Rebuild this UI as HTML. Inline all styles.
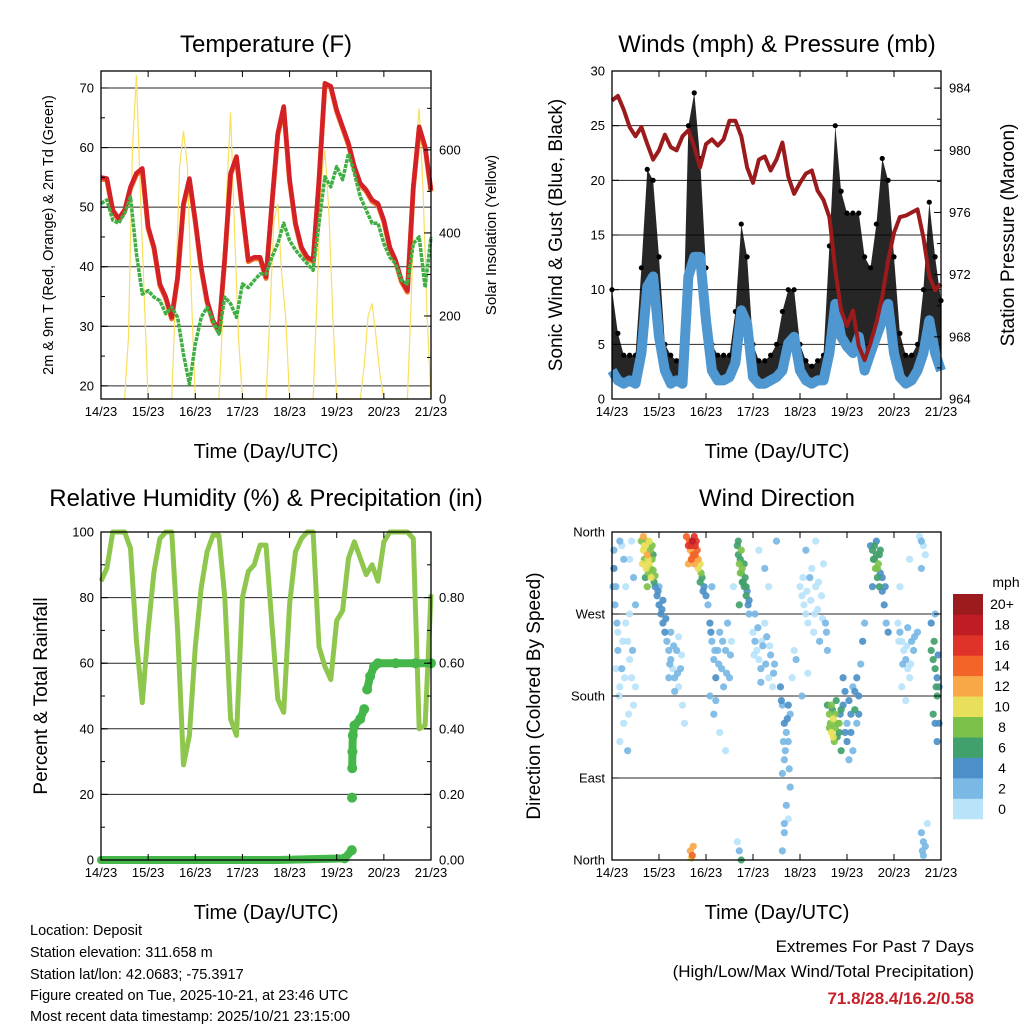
<!DOCTYPE html>
<html><head><meta charset="utf-8"><style>
body{margin:0;background:#fff;}
svg{display:block;font-family:"Liberation Sans",Arial,sans-serif;}
</style></head><body>
<svg id="chart" width="1024" height="1024" viewBox="0 0 1024 1024" xmlns="http://www.w3.org/2000/svg">
<rect width="1024" height="1024" fill="#fff"/>
<g id="layer"></g>
<g font-size="24" text-anchor="middle">
<text x="266" y="52">Temperature (F)</text>
<text x="777" y="52">Winds (mph) &amp; Pressure (mb)</text>
<text x="266" y="506">Relative Humidity (%) &amp; Precipitation (in)</text>
<text x="777" y="506">Wind Direction</text>
</g>
<g font-size="20" text-anchor="middle">
<text x="266" y="458">Time (Day/UTC)</text>
<text x="777" y="458">Time (Day/UTC)</text>
<text x="266" y="919">Time (Day/UTC)</text>
<text x="777" y="919">Time (Day/UTC)</text>
</g>
<g text-anchor="middle">
<text font-size="14.5" transform="translate(53,235) rotate(-90)">2m &amp; 9m T (Red, Orange) &amp; 2m Td (Green)</text>
<text font-size="15" transform="translate(496,235) rotate(-90)">Solar Insolation (Yellow)</text>
<text font-size="19" transform="translate(562,235) rotate(-90)">Sonic Wind &amp; Gust (Blue, Black)</text>
<text font-size="19" transform="translate(1014,235) rotate(-90)">Station Pressure (Maroon)</text>
<text font-size="19" transform="translate(47,696) rotate(-90)">Percent &amp; Total Rainfall</text>
<text font-size="19" transform="translate(540,696) rotate(-90)">Direction (Colored By Speed)</text>
</g>
<g font-size="14.5">
<text x="30" y="935">Location: Deposit</text>
<text x="30" y="957">Station elevation: 311.658 m</text>
<text x="30" y="979">Station lat/lon: 42.0683; -75.3917</text>
<text x="30" y="1000">Figure created on Tue, 2025-10-21, at 23:46 UTC</text>
<text x="30" y="1021">Most recent data timestamp: 2025/10/21 23:15:00</text>
</g>
<g font-size="17" text-anchor="end">
<text x="974" y="952">Extremes For Past 7 Days</text>
<text x="974" y="977">(High/Low/Max Wind/Total Precipitation)</text>
<text x="974" y="1004" fill="#c8202a" font-weight="bold">71.8/28.4/16.2/0.58</text>
</g>
</svg>
<script>
const T3=[];for(let i=0;i<=56;i++)T3.push(i*3);
const tempT=[55,54.8,49.5,48.1,49.5,53.4,55.7,56.5,46.7,43.3,37.1,34.9,31.5,38.3,50.6,54.8,47.8,39.9,34.3,31.0,29.3,41.6,55.7,58.5,49.5,41.1,41.6,41.6,38.3,50.6,62.4,66.9,54.6,47.3,43.3,41.6,41.1,54.6,70.8,70.3,66.3,63.5,60.7,56.8,54.0,52.9,51.2,50.6,47.8,43.3,41.1,37.7,36.0,53.4,63.5,60.2,52.9];
const dewT=[50.6,51.2,47.8,47.3,49.0,51.7,42.2,35.4,36.0,34.9,34.3,32.1,33.2,31.5,25.3,20.3,27.0,31.5,33.2,31.0,28.7,34.9,33.8,31.5,37.1,36.5,37.7,38.8,38.8,41.6,43.9,47.3,44.4,42.8,41.6,40.5,39.4,47.3,55.1,53.4,56.8,54.6,59.0,55.7,51.7,49.5,47.3,47.3,43.9,41.6,40.5,37.7,37.1,43.9,45.0,36.5,45.0];
const solarTime=[12,14,16,18,20,22,24, 36,38,40,42,44,46,48, 60,62,64,66,68,70,72, 84,86,88,90,92,94,96, 108,110,112,114,116,118,120, 132,134,136,138,140,142,144, 156,158,160,162,164,166,168];
const solarVal=[0,150,600,780,500,250,0, 0,250,560,645,560,250,0, 0,200,500,690,400,150,0, 0,200,430,470,300,200,0, 0,250,520,600,450,200,0, 0,80,200,230,150,60,0, 0,250,600,700,500,200,0];
const windSpd=[2.6,1.7,1.4,1.7,1.4,4.2,10.3,11.2,5.7,2.6,1.4,1.7,1.4,11.2,13.0,13.0,7.2,2.6,1.7,1.7,2.0,3.3,8.1,6.9,2.0,1.4,1.4,1.7,2.0,2.6,5.1,5.7,2.6,1.7,1.4,1.7,1.7,4.2,8.7,5.7,4.8,4.2,5.7,2.6,4.2,5.7,7.2,8.7,4.2,2.0,1.4,1.7,2.6,4.2,7.2,4.2,2.6];
const gustHi=[10,6,4,4,4,12,21,20,13,5,4,3.5,4,25,28,22,12,5,4,4,4,8,16,13,5,3.5,3.5,4,5,8,10,10,5,3.5,3,3.5,4,14,25,19,17,17,17,13,12,16,22,20,13,6,4,4,5,10,18,13,9];
const pressure=[983.2,983.5,982.6,981.5,980.9,981.5,980.4,979.4,980.0,981.0,980.2,980.0,980.9,981.3,980.2,978.9,980.4,980.7,980.3,980.7,981.9,981.9,980.9,978.9,977.9,979.4,979.6,978.7,979.4,980.5,978.3,977.2,977.9,978.5,978.7,977.4,976.8,975.7,972.3,969.7,968.7,969.7,967.4,966.5,967.6,968.9,970.6,972.9,974.7,975.7,975.8,976.0,976.2,974.4,971.9,971.0,971.4];
const rh=[85,89,100,100,100,95,67,48,70,88,98,100,100,70,29,38,65,83,94,99,99,80,43,38,80,88,90,96,96,72,49,45,78,94,98,100,100,65,59,55,73,76,92,97,92,87,90,85,97,100,100,100,100,98,40,41,81];
const precipTime=[0,30,60,90,124,127.7,127.8,127.9,128,128.2,129,132,134,135.5,137,139,141,150,160,168];
const precipVal=[0,0,0,0,0.005,0.03,0.19,0.28,0.33,0.38,0.41,0.43,0.46,0.52,0.56,0.59,0.6,0.6,0.6,0.6];
const dirTime=[1,1,2,1.5,3,3,2,4,5,6,7,8,9,10,11,6,8,4,11,12,10,7,5,9,
15,16,16.5,17,17.5,18,18.5,19,19.5,20,20.5,21,21.5,22,16,17,18,19,
22,23,24,25,26,27,24,26,
28,29,30,31,32,33,34,35,30,36,37,32,29,34,
38,39,40,40.5,41,41.5,42,42.5,43,43.5,44,45,45.5,46,47,48,39,42,40,41,41.5,40.5,
49,50,51,52,53,54,55,56,57,58,59,60,61,50,52,55,58,62,51,
64,64.5,65,65.5,66,66.5,67,67.5,68,68.5,69,70,66,65,70,64,65,66,
72,73,74,75,76,77,78,79,80,81,82,83,75,78,80,84,73,76,
86,87,88,89,90,88,87,90,91,92,89,90,88,87,91,93,94,
96,97,98,99,100,101,102,103,104,105,106,107,108,109,110,99,104,100,97,
110,111,111.5,112,112.5,113,113.5,114,114.5,115,116,116.5,117,118,119,120,121,122,123,124,125,126,127,128,129,120,123,125,118,121,
132,133,134,134.5,135,135.5,136,136.5,137,138,139,140,141,133,137,135,
146,147,148,149,150,151,152,153,148,150,151,154,156,147,152,
157,158,159,160,158,158,159,160,159,161,163,164,165,166,164,165,166,163,167,165,166,
0.5,2.5,3.5,5.5,6.5,8.5,10.5,12,4,9,
15.5,16.5,17.5,18.5,19.5,20.5,21,
23.5,25.5,27.5,29.5,31.5,33.5,35.5,
39.5,40.5,41,42.5,43,44,45,46.5,
50.5,52.5,54.5,56.5,58.5,60.5,53,
64.5,65.5,66.5,67.5,68.5,69.5,
72.5,74.5,76.5,78.5,80.5,82.5,
86.5,87.5,88.5,89.5,90.5,88,
97.5,99.5,101.5,103.5,105.5,107.5,109.5,
111,112,113,114,115,116,117,119,122,124,126,
133.5,134,135.5,136.5,138,139.5,
146.5,148.5,150.5,152.5,154.5,
164.5,165.5,166.5,167,158.5];
const dirDeg=[340,320,300,280,250,230,210,190,345,330,300,240,220,200,170,150,120,130,310,280,350,260,210,270,
350,340,330,345,320,335,315,325,340,310,330,318,305,312,355,310,300,350,
300,290,280,270,260,250,300,285,
240,230,220,210,200,230,190,210,250,170,150,185,200,245,
355,345,340,330,350,335,325,345,330,340,320,325,315,310,300,290,325,355,10,5,15,2,
280,260,240,220,200,230,250,210,190,230,260,200,240,180,160,140,120,300,300,
345,335,325,330,315,320,305,300,310,290,295,285,340,280,270,20,10,0,
250,240,230,220,210,235,260,245,200,225,190,215,340,320,300,350,270,195,
190,170,150,140,130,110,95,170,160,200,60,45,30,10,80,230,220,
300,290,280,270,260,310,320,250,300,275,240,290,325,260,230,340,350,205,180,
170,160,150,140,165,155,130,145,175,135,150,160,120,170,185,150,175,140,190,165,200,180,215,240,260,130,120,150,200,110,
345,340,330,320,335,310,325,300,315,295,280,260,250,300,340,350,
260,250,240,230,220,210,200,240,190,175,255,230,250,300,330,
355,350,345,335,320,30,20,15,5,40,230,220,210,200,160,150,180,260,190,270,130,
300,260,180,240,200,160,230,190,350,330,
325,345,350,330,320,345,335,
295,275,265,215,235,205,225,
350,345,330,335,350,330,305,295,
250,230,215,240,205,225,175,
350,315,305,325,300,280,
225,255,240,215,235,205,
175,130,120,155,100,40,
310,295,285,270,305,265,250,
145,170,135,160,150,140,165,140,160,185,160,
330,345,320,335,310,300,
240,215,235,215,245,
240,190,225,150,10];
const dirSpd=[3,4,2,3,1,2,1,1,1,2,1,1,0,1,1,1,2,1,3,2,1,1,2,1,
8,10,9,11,10,12,9,10,8,10,9,8,7,9,12,7,8,11,
5,4,5,4,5,4,3,4,
2,3,2,1,2,3,1,2,2,1,1,3,2,1,
14,16,12,15,18,14,13,16,12,15,11,10,9,7,5,4,12,17,12,15,13,10,
3,4,3,3,4,2,3,3,2,3,2,2,1,3,2,1,1,1,3,
6,7,8,6,7,8,7,6,7,6,5,4,9,6,3,1,2,6,
1,2,1,1,2,3,1,2,1,2,1,3,1,2,1,3,2,3,
4,3,4,3,2,3,2,4,3,1,2,1,2,2,2,1,2,
1,0,1,0,1,2,1,0,1,1,2,1,1,3,2,2,1,1,2,
6,8,9,10,7,11,8,9,6,7,8,5,6,4,4,3,5,4,3,6,4,5,3,4,3,4,2,3,5,2,
5,6,7,8,7,6,8,6,5,4,4,3,4,5,7,5,
1,2,1,1,2,1,1,2,1,1,3,3,2,1,1,
1,2,1,1,3,3,2,3,2,1,6,7,6,5,6,5,6,4,5,3,4,
3,2,1,1,1,1,2,1,2,1,
10,11,9,10,9,8,7,
4,5,4,2,3,2,1,
15,17,13,14,16,12,6,5,
4,3,3,2,3,2,3,
7,8,7,6,7,5,
1,2,1,2,1,2,
4,3,3,4,2,2,
1,1,1,1,0,1,2,
9,8,10,9,8,7,6,5,5,4,4,
7,6,8,7,5,4,
1,2,1,1,2,
6,7,5,5,3];
const dayLabels=["14/23","15/23","16/23","17/23","18/23","19/23","20/23","21/23"];
const tempTicks=[20,30,40,50,60,70];
const solarTicks=[0,200,400,600];
const windTicks=[0,5,10,15,20,25,30];
const presTicks=[964,968,972,976,980,984];
const rhTicks=[0,20,40,60,80,100];
const rainTicks=[0,0.2,0.4,0.6,0.8];
const dirTicks=[0,90,180,270,360];
const dirNames=["North","East","South","West","North"];
const spdColors=["#b8e3f8","#7ab9e5","#4b90c8","#41a16c","#7cc24a","#e8e05a","#f9a848","#f26428","#df3228","#c01c25","#9b1b1e"];
const spdLabels=["0","2","4","6","8","10","12","14","16","18","20+"];

const NS="http://www.w3.org/2000/svg";
const layer=document.getElementById('layer');
function mk(tag,attrs,parent){const e=document.createElementNS(NS,tag);for(const k in attrs)e.setAttribute(k,attrs[k]);(parent||layer).appendChild(e);return e;}
function lin(d0,d1,r0,r1){return v=>r0+(v-d0)/(d1-d0)*(r1-r0);}
function pathOf(xs,ys,fx,fy){return xs.map((t,i)=>(i?'L':'M')+fx(t).toFixed(1)+','+fy(ys[i]).toFixed(1)).join('');}

function panel(name){
  const g=mk('g',{});
  
  
  return g;
}
function frame(g,x0,x1,y0,y1,fx){
  const r=mk('rect',{x:x0,y:y0,width:x1-x0,height:y1-y0,fill:'none',stroke:'#000','stroke-width':1.3},g);
  
  
  dayLabels.forEach((lab,i)=>{
    const x=fx(i*24);
    const t1=mk('line',{x1:x,x2:x,y1:y1,y2:y1-6,stroke:'#000','stroke-width':1},g);
    
    
    const t2=mk('line',{x1:x,x2:x,y1:y0,y2:y0+6,stroke:'#000','stroke-width':1},g);
    
    
    const tx=mk('text',{x:x,y:y1+17,'font-size':13,'text-anchor':'middle'},g);
    tx.textContent=lab;
    
    
  });
}
function grid(g,x0,x1,vals,fy){
  vals.forEach(v=>{const y=fy(v);
    const l=mk('line',{x1:x0,x2:x1,y1:y,y2:y,stroke:'#000','stroke-width':1,opacity:0.85},g);
    
    });
}
function yticks(g,x,side,vals,fy,fmt,minorStep,lo,hi){
  const dir=side==='left'?1:-1;
  vals.forEach(v=>{const y=fy(v);
    const t=mk('line',{x1:x,x2:x+dir*7,y1:y,y2:y,stroke:'#000'},g);
    
    
    const tx=mk('text',{x:side==='left'?x-7:x+8,y:y+4.5,'font-size':13,'text-anchor':side==='left'?'end':'start'},g);
    tx.textContent=fmt(v);
    
    });
  if(minorStep){for(let v=lo;v<=hi+1e-9;v+=minorStep){const y=fy(v);
    const t=mk('line',{x1:x,x2:x+dir*4,y1:y,y2:y,stroke:'#000'},g);
    
    }}
}

// Panel 1 temperature
(function(){
  const x0=101,x1=431,y0=71,y1=399;
  const fx=lin(0,168,x0,x1), fy=lin(17.8,72.85,y1,y0), fs=lin(0,790,y1,y0);
  const g=panel('temperature-panel');
  grid(g,x0,x1,tempTicks,fy);
  const s=mk('path',{d:pathOf(solarTime,solarVal,fx,fs),fill:'none',stroke:'#f8df5c','stroke-width':1.2},g);
  
  
  const o=mk('path',{d:pathOf(T3,tempT,fx,v=>fy(v)+1.5),fill:'none',stroke:'#f0782a','stroke-width':5,'stroke-linejoin':'round'},g);
  
  
  const r=mk('path',{d:pathOf(T3,tempT,fx,fy),fill:'none',stroke:'#d42027','stroke-width':4.5,'stroke-linejoin':'round'},g);
  
  
  const d=mk('path',{d:pathOf(T3,dewT,fx,fy),fill:'none',stroke:'#3fae43','stroke-width':3.5,'stroke-dasharray':'4 1','stroke-linejoin':'round'},g);
  
  
  frame(g,x0,x1,y0,y1,fx);
  yticks(g,x0,'left',tempTicks,fy,v=>v,5,20,70);
  yticks(g,x1,'right',solarTicks,fs,v=>v,100,0,700);
})();

// Panel 2 winds
(function(){
  const x0=612,x1=941,y0=71,y1=399;
  const fx=lin(0,168,x0,x1), fy=lin(0,30,y1,y0), fp=lin(964,985.1,y1,y0);
  const g=panel('winds-panel');
  grid(g,x0,x1,[5,10,15,20,25],fy);
  let dpath='M'+T3.map((t,i)=>fx(t).toFixed(1)+','+fy(gustHi[i]).toFixed(1)).join('L');
  for(let i=T3.length-1;i>=0;i--)dpath+='L'+fx(T3[i]).toFixed(1)+','+fy(windSpd[i]).toFixed(1);
  const ga=mk('path',{d:dpath+'Z',fill:'#000',opacity:0.85},g);
  
  
  T3.forEach((t,i)=>{const c=mk('circle',{cx:fx(t),cy:fy(gustHi[i]),r:2.6,fill:'#000'},g);
    
    });
  const w=mk('path',{d:pathOf(T3,windSpd,fx,fy),fill:'none',stroke:'#4f97d0','stroke-width':10,'stroke-linejoin':'round'},g);
  
  
  const p=mk('path',{d:pathOf(T3,pressure,fx,fp),fill:'none',stroke:'#9b1a1c','stroke-width':4,'stroke-linejoin':'round'},g);
  
  
  frame(g,x0,x1,y0,y1,fx);
  yticks(g,x0,'left',windTicks,fy,v=>v,null);
  yticks(g,x1,'right',presTicks,fp,v=>v,2,964,984);
})();

// Panel 3 RH
(function(){
  const x0=101,x1=431,y0=532,y1=860;
  const fx=lin(0,168,x0,x1), fy=lin(0,100,y1,y0), fr=lin(0,1,y1,y0);
  const g=panel('humidity-panel');
  grid(g,x0,x1,[20,40,60,80],fy);
  const l=mk('path',{d:pathOf(T3,rh,fx,fy),fill:'none',stroke:'#8fc74e','stroke-width':5,'stroke-linejoin':'round'},g);
  
  
  let d='';
  precipTime.forEach((t,i)=>{const jump=i>0&&Math.abs(precipVal[i]-precipVal[i-1])>0.05;
    d+=(i===0||jump?'M':'L')+fx(t).toFixed(1)+','+fr(precipVal[i]).toFixed(1);});
  const pl=mk('path',{d:d,fill:'none',stroke:'#45b649','stroke-width':8,'stroke-linecap':'round','stroke-linejoin':'round'},g);
  
  
  precipTime.forEach((t,i)=>{if(t<120)return;const c=mk('circle',{cx:fx(t),cy:fr(precipVal[i]),r:5,fill:'#45b649'},g);
    
    });
  frame(g,x0,x1,y0,y1,fx);
  yticks(g,x0,'left',rhTicks,fy,v=>v,10,0,100);
  yticks(g,x1,'right',rainTicks,fr,v=>v.toFixed(2),0.1,0,1);
})();

// Panel 4 wind direction
(function(){
  const x0=612,x1=941,y0=532,y1=860;
  const fx=lin(0,168,x0,x1), fy=lin(0,360,y1,y0);
  const g=panel('wind-direction-panel');
  grid(g,x0,x1,[90,180,270],fy);
  const idx=dirTime.map((t,i)=>i).sort((a,b)=>dirSpd[a]-dirSpd[b]);
  idx.forEach(i=>{const b=Math.min(10,Math.floor(dirSpd[i]/2));
    const c=mk('circle',{cx:fx(dirTime[i]),cy:fy(dirDeg[i]),r:3.6,fill:spdColors[b],opacity:0.92},g);
    
    });
  frame(g,x0,x1,y0,y1,fx);
  dirTicks.forEach((v,i)=>{const y=fy(v);
    const t=mk('line',{x1:x0,x2:x0+7,y1:y,y2:y,stroke:'#000'},g);
    
    
    const t2=mk('line',{x1:x1,x2:x1-7,y1:y,y2:y,stroke:'#000'},g);
    
    
    const tx=mk('text',{x:x0-7,y:y+4.5,'font-size':13,'text-anchor':'end'},g);
    tx.textContent=dirNames[i];
    
    });
  const cb=mk('g',{},g);
  
  
  const bx=953,bw=30,top=594,bh=225/11;
  spdColors.forEach((col,i)=>{const y=top+(10-i)*bh;
    const r=mk('rect',{x:bx,y:y,width:bw,height:bh+0.3,fill:col},cb);
    
    
    const tx=mk('text',{x:1002,y:y+bh/2+5,'font-size':14,'text-anchor':'middle'},cb);
    tx.textContent=spdLabels[i];
    
    });
  const u=mk('text',{x:1006,y:587,'font-size':14,'text-anchor':'middle'},cb);
  u.textContent='mph';
  
  
})();
</script>
</body></html>
